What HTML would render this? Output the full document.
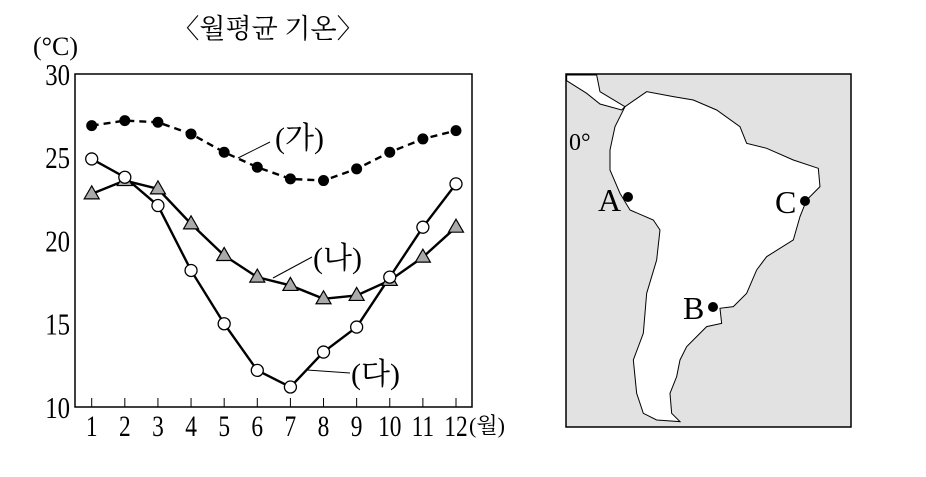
<!DOCTYPE html>
<html><head><meta charset="utf-8"><style>
body{margin:0;background:#fff;width:926px;height:472px;overflow:hidden}
text{font-family:"Liberation Serif","Noto Serif CJK SC","Noto Sans CJK KR",serif;fill:#000}
</style></head><body>
<svg width="926" height="472" viewBox="0 0 926 472">
<text x="268" y="38" font-size="27" text-anchor="middle">〈월평균 기온〉</text>
<text x="33" y="55" font-size="26">(°C)</text>
<g id="chart"></g>
<g>
<rect x="566" y="74" width="285" height="353" fill="#e2e2e2" stroke="#000" stroke-width="1.5"/>
<g transform="translate(560,60) scale(0.3333)" stroke="#000" stroke-width="3" fill="#fff">
<path d="M195,140 L260,95 L340,110 L400,120 L470,150 L540,200 L560,250 L620,265 L700,300 L775,325 L780,380 L740,420 L720,470 L700,540 L620,590 L590,630 L560,700 L520,740 L480,745 L485,790 L440,800 L410,830 L380,860 L360,900 L350,950 L330,1000 L335,1060 L360,1085 L290,1080 L250,1060 L230,1000 L220,900 L250,820 L260,700 L290,600 L300,510 L280,480 L210,450 L180,400 L150,330 L150,270 L165,200 Z"/>
<path d="M20,45 L110,45 L120,95 L195,140 L185,150 L120,132 L80,100 L20,62 Z"/>
</g>
<text x="569" y="150" font-size="24">0°</text>
<text x="598" y="211" font-size="32">A</text>
<circle cx="628" cy="197" r="5" fill="#000"/>
<text x="775" y="213" font-size="32">C</text>
<circle cx="805" cy="201" r="5" fill="#000"/>
<text x="683" y="319" font-size="32">B</text>
<circle cx="713" cy="307" r="5" fill="#000"/>
</g>
</svg>
<script>
const months=[1,2,3,4,5,6,7,8,9,10,11,12];
const yTicks=[10,15,20,25,30];
const seriesGa=[26.9,27.2,27.1,26.4,25.3,24.4,23.7,23.6,24.3,25.3,26.1,26.6];
const seriesNa=[22.8,23.6,23.1,21.0,19.1,17.8,17.3,16.5,16.7,17.6,19.0,20.8];
const seriesDa=[24.9,23.8,22.1,18.2,15.0,12.2,11.2,13.3,14.8,17.8,20.8,23.4];
const NS='http://www.w3.org/2000/svg';
const g=document.getElementById('chart');
const X=m=>91.7+(m-1)*(456-91.7)/11;
const Y=v=>407-(v-10)*(407-74)/20;
function mk(t,a,p){const e=document.createElementNS(NS,t);for(const k in a)e.setAttribute(k,a[k]);(p||g).appendChild(e);return e;}
let fr=mk('rect',{x:75,y:74,width:397,height:333,fill:'none',stroke:'#000','stroke-width':1.5});


yTicks.forEach(v=>{
 const t=mk('text',{x:70,y:Y(v)+11,'font-size':31,'text-anchor':'end',transform:`translate(70 0) scale(0.8 1) translate(-70 0)`});t.textContent=v;
 
 
});
months.forEach(m=>{
 const l=mk('line',{x1:X(m),x2:X(m),y1:407,y2:398,stroke:'#000','stroke-width':1});
 
 
 const t=mk('text',{x:X(m),y:436,'font-size':30,'text-anchor':'middle',transform:`translate(${X(m)} 0) scale(0.78 1) translate(${-X(m)} 0)`});t.textContent=m;
 
 
});
const wl=mk('text',{x:469,y:433,'font-size':22});wl.textContent='(월)';


function line(vals,dash,name){
 const p=mk('polyline',{points:vals.map((v,i)=>X(months[i])+','+Y(v)).join(' '),fill:'none',stroke:'#000','stroke-width':2.4,'stroke-dasharray':dash||'none'});
 
 
}
line(seriesGa,'7 5','line-ga');line(seriesNa,'','line-na');line(seriesDa,'','line-da');
seriesNa.forEach((v,i)=>{const x=X(months[i]),y=Y(v);
 const m=mk('polygon',{points:`${x},${y-8} ${x-7.5},${y+5} ${x+7.5},${y+5}`,fill:'#aaa',stroke:'#000','stroke-width':1.2});
 
 });
seriesDa.forEach((v,i)=>{const m=mk('circle',{cx:X(months[i]),cy:Y(v),r:6,fill:'#fff',stroke:'#000','stroke-width':1.3});
 
 });
seriesGa.forEach((v,i)=>{const m=mk('circle',{cx:X(months[i]),cy:Y(v),r:5.5,fill:'#000'});
 
 });
[['(가)',275,148,238,158,270,142,'label-ga'],['(나)',313,268,273,278,312,257,'label-na'],['(다)',351,384,307,370,350,373,'label-da']].forEach(a=>{
 const l=mk('line',{x1:a[3],y1:a[4],x2:a[5],y2:a[6],stroke:'#000','stroke-width':1});
 
 
 const t=mk('text',{x:a[1],y:a[2],'font-size':30});t.textContent=a[0];
 
 
});
</script>
</body></html>
